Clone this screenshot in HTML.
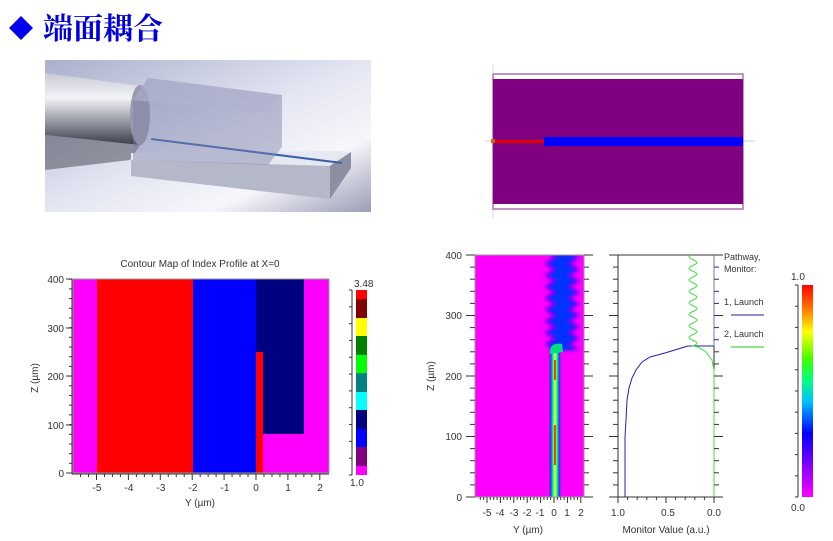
<!DOCTYPE html>
<html><head><meta charset="utf-8"><style>
html,body{margin:0;padding:0;background:#fff;width:833px;height:541px;overflow:hidden}
svg{position:absolute;left:0;top:0}
text{font-family:"Liberation Sans",Arial,sans-serif;fill:#333}
</style></head><body>
<svg width="833" height="541" viewBox="0 0 833 541" xmlns="http://www.w3.org/2000/svg">
<defs>
<linearGradient id="bg3d" x1="0" y1="0" x2="1" y2="1">
<stop offset="0" stop-color="#aab0cc"/><stop offset="0.5" stop-color="#e4e6f2"/><stop offset="0.75" stop-color="#f6f6fb"/><stop offset="1" stop-color="#9b9db5"/></linearGradient>
<linearGradient id="cyl" x1="0" y1="0" x2="0" y2="1">
<stop offset="0" stop-color="#c8cad4"/><stop offset="0.35" stop-color="#f2f3f7"/><stop offset="0.7" stop-color="#8e909c"/><stop offset="1" stop-color="#3a3c46"/></linearGradient>
<linearGradient id="slab" x1="0" y1="0" x2="0" y2="1">
<stop offset="0" stop-color="#e8ebf2"/><stop offset="1" stop-color="#b8bccb"/></linearGradient>
<linearGradient id="cb" x1="0" y1="1" x2="0" y2="0">
<stop offset="0" stop-color="#ff00ff"/><stop offset="0.15" stop-color="#8000ff"/><stop offset="0.3" stop-color="#0000ff"/><stop offset="0.45" stop-color="#00c0ff"/><stop offset="0.55" stop-color="#00ff80"/><stop offset="0.65" stop-color="#40ff00"/><stop offset="0.78" stop-color="#ffff00"/><stop offset="0.88" stop-color="#ff8000"/><stop offset="1" stop-color="#ff0000"/></linearGradient>
<linearGradient id="core" x1="0" y1="0" x2="1" y2="0">
<stop offset="0" stop-color="#ff00ff" stop-opacity="0"/><stop offset="0.18" stop-color="#2030ff"/><stop offset="0.35" stop-color="#00ff60"/><stop offset="0.5" stop-color="#f0ff80"/><stop offset="0.65" stop-color="#00ff60"/><stop offset="0.82" stop-color="#2030ff"/><stop offset="1" stop-color="#ff00ff" stop-opacity="0"/></linearGradient>
<filter id="bl" x="-50%" y="-5%" width="200%" height="110%"><feGaussianBlur stdDeviation="1.5"/></filter>
<clipPath id="fc"><rect x="475" y="255" width="109" height="242"/></clipPath>
</defs>

<polygon points="21,16 33,28 21,40 9,28" fill="#0000ee"/>
<text x="43" y="39" font-size="30" font-weight="bold" style="font-family:'Noto Serif CJK SC','Liberation Serif',serif;fill:#0000dd">端面耦合</text>

<rect x="45" y="60" width="326" height="152" fill="url(#bg3d)"/>
<path d="M45,73 L140,86 L140,145 L45,135 Z" fill="url(#cyl)"/>
<path d="M45,135 L140,145 L130,160 L45,170 Z" fill="#5a5c68" opacity="0.6"/>
<ellipse cx="140" cy="115" rx="10" ry="30" fill="#9a9cab"/>
<path d="M131,153 L342,151 L351,154 L351,168 L330,199 L131,176 Z" fill="url(#slab)"/>
<path d="M131,153 L342,151 L330,166 L131,160 Z" fill="#e6e9f1"/>
<path d="M330,166 L351,152 L351,168 L330,199 Z" fill="#8c8fa0"/>
<path d="M131,160 L330,166 L330,199 L131,176 Z" fill="#b4b8c8"/>
<line x1="151" y1="139" x2="342" y2="163" stroke="#3a5fb0" stroke-width="2"/>
<path d="M148,78 L282,95 L282,147 L268,165 L133,160 L133,100 Z" fill="#7c80a8" opacity="0.45"/>
<path d="M148,78 L282,95 L268,113 L133,100 Z" fill="#b0b3cf" opacity="0.6"/>

<line x1="493" y1="64" x2="493" y2="218" stroke="#ddd" stroke-width="1"/>
<line x1="485" y1="141" x2="755" y2="141" stroke="#ccc"/>
<rect x="493" y="74" width="250" height="135" fill="#fff" stroke="#b070b0" stroke-width="1.5"/>
<rect x="493" y="79" width="250" height="125" fill="#800080"/>
<rect x="544" y="137" width="199" height="9" fill="#0000ff"/>
<rect x="493" y="140" width="51" height="3" fill="#e00000"/>
<rect x="491" y="139" width="4" height="4" fill="#d06020"/>

<text x="200" y="267" font-size="10" text-anchor="middle">Contour Map of Index Profile at X=0</text>
<rect x="73" y="279" width="256" height="194" fill="#ff00ff"/>
<rect x="97" y="279" width="96" height="194" fill="#ff0000"/>
<rect x="193" y="279" width="63" height="194" fill="#0000ff"/>
<rect x="256" y="279" width="48" height="155" fill="#000080"/>
<rect x="256" y="434" width="73" height="39" fill="#ff00ff"/>
<rect x="256" y="352" width="7" height="121" fill="#ff0000"/>
<rect x="73" y="279" width="256" height="194" fill="none" stroke="#999" stroke-width="1"/>
<g stroke="#333" stroke-width="1">
<line x1="72" y1="279" x2="72" y2="474"/><line x1="72" y1="474" x2="329" y2="474"/>
<line x1="66" y1="279" x2="72" y2="279"/><line x1="66" y1="328" x2="72" y2="328"/><line x1="66" y1="376" x2="72" y2="376"/><line x1="66" y1="425" x2="72" y2="425"/><line x1="66" y1="473" x2="72" y2="473"/>
</g>
<g id="lt"></g>
<g font-size="10" text-anchor="end">
<text x="64" y="283">400</text><text x="64" y="332">300</text><text x="64" y="380">200</text><text x="64" y="429">100</text><text x="64" y="477">0</text></g>
<g font-size="10" text-anchor="middle">
<text x="97" y="491">-5</text><text x="129" y="491">-4</text><text x="161" y="491">-3</text><text x="193" y="491">-2</text><text x="225" y="491">-1</text><text x="256" y="491">0</text><text x="288" y="491">1</text><text x="320" y="491">2</text>
<text x="200" y="506">Y (µm)</text></g>
<text x="0" y="0" font-size="10" text-anchor="middle" transform="translate(38,378) rotate(-90)">Z (µm)</text>
<g>
<rect x="356" y="290" width="11" height="9" fill="#ff0000"/>
<rect x="356" y="299" width="11" height="19" fill="#800000"/>
<rect x="356" y="318" width="11" height="18" fill="#ffff00"/>
<rect x="356" y="336" width="11" height="19" fill="#008000"/>
<rect x="356" y="355" width="11" height="18" fill="#00ff00"/>
<rect x="356" y="373" width="11" height="19" fill="#008080"/>
<rect x="356" y="392" width="11" height="18" fill="#00ffff"/>
<rect x="356" y="410" width="11" height="19" fill="#000080"/>
<rect x="356" y="429" width="11" height="18" fill="#0000ff"/>
<rect x="356" y="447" width="11" height="19" fill="#800080"/>
<rect x="356" y="466" width="11" height="9" fill="#ff00ff"/>
<line x1="352" y1="290" x2="352" y2="475" stroke="#333"/>
</g>
<text x="354" y="287" font-size="10">3.48</text>
<text x="350" y="486" font-size="10">1.0</text>

<rect x="475" y="255" width="109" height="242" fill="#ff00ff"/>
<g clip-path="url(#fc)">
<path id="wv2" d="" fill="#8000ff" filter="url(#bl)"/>
<path id="wv" d="" fill="#0030ff" filter="url(#bl)"/>
<rect x="548" y="346" width="14" height="151" fill="url(#core)"/>
<path d="M550,350 Q552,342 562,344 L563,352 L550,354 Z" fill="#00e080"/>
<rect x="554" y="360" width="2" height="20" fill="#ff4000"/>
<rect x="554" y="425" width="2" height="40" fill="#ff4000"/>
</g>
<rect x="475" y="255" width="109" height="242" fill="none" stroke="#999"/>
<rect x="618" y="255" width="96" height="242" fill="#fff" stroke="#333"/>
<line x1="714" y1="255" x2="714" y2="346" stroke="#7070e0"/>
<path d="M625,497 L625,437 L626,420 L627,400 L629,388 L632,378 L636,370 L642,362 L650,357 L665,353 L678,349 L688,346 L714,346" fill="none" stroke="#2020b0" stroke-width="1"/>
<path id="grn" d="" fill="none" stroke="#40e040" stroke-width="1"/>
<g id="ticks" stroke="#333"></g>
<g font-size="10" text-anchor="end">
<text x="462" y="259">400</text><text x="462" y="319">300</text><text x="462" y="380">200</text><text x="462" y="440">100</text><text x="462" y="501">0</text></g>
<g font-size="10" text-anchor="middle">
<text x="487" y="516">-5</text><text x="500" y="516">-4</text><text x="514" y="516">-3</text><text x="527" y="516">-2</text><text x="540" y="516">-1</text><text x="554" y="516">0</text><text x="567" y="516">1</text><text x="581" y="516">2</text>
<text x="528" y="533">Y (µm)</text>
<text x="618" y="516">1.0</text><text x="668" y="516">0.5</text><text x="714" y="516">0.0</text>
<text x="666" y="533">Monitor Value (a.u.)</text></g>
<text x="0" y="0" font-size="10" text-anchor="middle" transform="translate(434,376) rotate(-90)">Z (µm)</text>
<g font-size="9">
<text x="724" y="260">Pathway,</text><text x="724" y="272">Monitor:</text>
<text x="724" y="305">1, Launch</text><text x="724" y="337">2, Launch</text></g>
<line x1="731" y1="315" x2="764" y2="315" stroke="#2020b0"/>
<line x1="731" y1="347" x2="764" y2="347" stroke="#60e060" stroke-width="1.5"/>
<rect x="802" y="285" width="11" height="212" fill="url(#cb)"/>
<line x1="798" y1="285" x2="798" y2="497" stroke="#333"/>
<text x="791" y="280" font-size="10">1.0</text>
<text x="791" y="511" font-size="10">0.0</text>
</svg>
<script>
var s="";function L(a,b,c,d){s+='<line x1="'+a+'" y1="'+b+'" x2="'+c+'" y2="'+d+'"/>';}
var t="";for(var v=-5.5;v<=2.2;v+=0.25){var x=256+v*31.9;t+='<line x1="'+x+'" y1="474" x2="'+x+'" y2="'+(Math.abs(v-Math.round(v))<0.01?480:477)+'" stroke="#333"/>';}
for(var z=0;z<=400;z+=20){var y=473-z*0.4845;t+='<line x1="69" y1="'+y+'" x2="72" y2="'+y+'" stroke="#333"/>';}
for(var k=0;k<12;k++){var y=290+k*185/11;t+='<line x1="349" y1="'+y+'" x2="352" y2="'+y+'" stroke="#333"/>';}
document.getElementById('lt').innerHTML=t;
for(var z=0;z<=400;z+=20){var y=497-z*0.605,big=z%100==0;L(big?466:470,y,475,y);L(584,y,big?593:589,y);L(big?609:613,y,618,y);L(714,y,big?723:719,y);}
for(var v=-5.5;v<=2.2;v+=0.25){var x=554+v*13.4;L(x,497,x,Math.abs(v-Math.round(v))<0.01?503:500);}
for(var k=0;k<=10;k++){var x=618+k*9.6;L(x,497,x,k%5==0?503:500);}
for(var k=0;k<=10;k++){var y=285+k*21.2;L(795,y,798,y);}
document.getElementById('ticks').innerHTML=s;
function band(l,r){var pts=[];for(var y=255;y<=350;y+=1){pts.push([y,3.5*Math.sin((y-255)/11.5*2*Math.PI)]);}
var p="M"+(l+pts[0][1])+",255";for(var i=0;i<pts.length;i++)p+=" L"+(l+pts[i][1])+","+pts[i][0];
for(var i=pts.length-1;i>=0;i--)p+=" L"+(r+pts[i][1])+","+pts[i][0];return p+"Z";}
document.getElementById('wv2').setAttribute('d',band(548,576));
document.getElementById('wv').setAttribute('d',band(553,571));
var g="M714,497 L714,370 L712,360 L706,352 L698,347 L693,346";
for(var y=346;y>=255;y-=1){g+=" L"+(693+4*Math.sin((346-y)/11.5*2*Math.PI))+","+y;}
document.getElementById('grn').setAttribute('d',g);
</script>
</body></html>
